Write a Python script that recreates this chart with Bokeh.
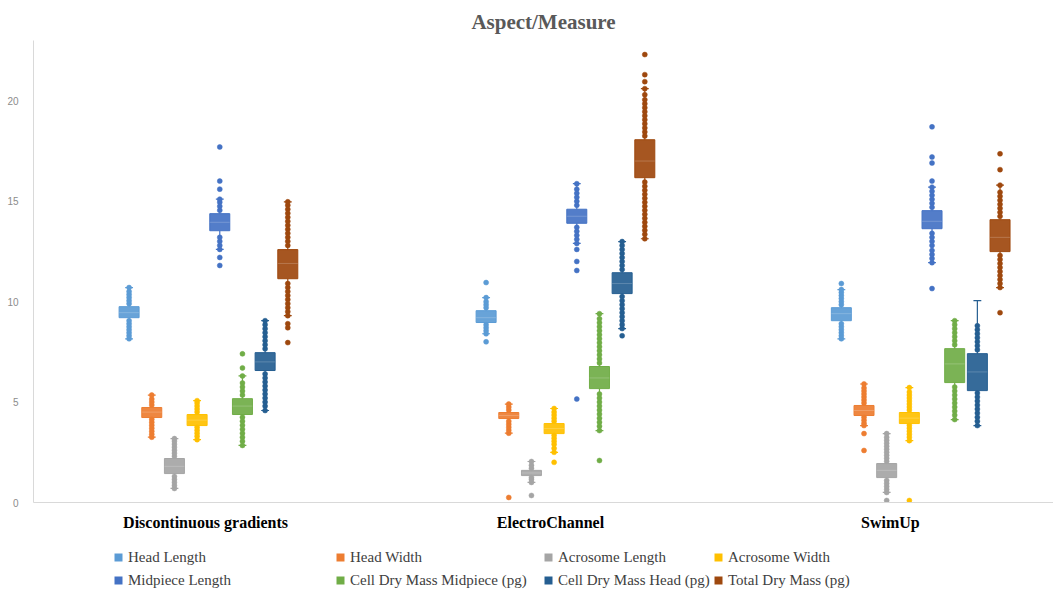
from bokeh.plotting import figure
from bokeh.layouts import column
from bokeh.models import ColumnDataSource, FixedTicker, Legend, LegendItem, Range1d
from bokeh.embed import file_html
from bokeh.resources import INLINE

GROUPS = ["Discontinuous gradients", "ElectroChannel", "SwimUp"]
SERIES = ["Head Length", "Head Width", "Acrosome Length", "Acrosome Width",
          "Midpiece Length", "Cell Dry Mass Midpiece (pg)", "Cell Dry Mass Head (pg)",
          "Total Dry Mass (pg)"]
COLORS = ["#5B9BD5", "#ED7D31", "#A5A5A5", "#FFC000",
          "#4472C4", "#70AD47", "#255E91", "#9E480E"]

# per series: [Discontinuous gradients, ElectroChannel, SwimUp]
Q1 = [[9.20, 8.96, 9.05], [4.23, 4.18, 4.33], [1.44, 1.34, 1.24], [3.83, 3.43, 3.93],
      [13.53, 13.90, 13.63], [4.38, 5.67, 5.97], [6.57, 10.40, 5.57], [11.14, 16.17, 12.49]]
MEDIAN = [[9.45, 9.20, 9.40], [4.50, 4.33, 4.58], [1.80, 1.47, 1.60], [4.10, 3.68, 4.20],
          [13.95, 14.25, 14.00], [4.80, 6.20, 6.90], [7.00, 10.90, 6.50], [11.90, 17.00, 13.20]]
Q3 = [[9.75, 9.55, 9.70], [4.73, 4.48, 4.83], [2.19, 1.60, 1.94], [4.38, 3.93, 4.48],
      [14.38, 14.60, 14.53], [5.17, 6.77, 7.66], [7.46, 11.44, 7.41], [12.59, 18.06, 14.08]]
WHISKER_LO = [[8.15, 8.40, 8.15], [3.25, 3.45, 3.83], [0.70, 1.00, 0.50], [3.13, 2.50, 3.08],
              [12.60, 12.90, 11.94], [2.84, 3.58, 4.13], [4.58, 8.66, 3.83], [9.30, 13.13, 10.70]]
WHISKER_HI = [[10.70, 10.20, 10.60], [5.35, 4.90, 5.90], [3.18, 2.04, 3.43], [5.07, 4.68, 5.72],
              [15.10, 15.87, 15.70], [6.30, 9.40, 9.05], [9.05, 12.99, 10.05], [14.97, 20.60, 15.80]]

POINTS = [
    [[8.15, 8.3, 8.45, 8.6, 8.75, 8.9, 9.05, 9.9, 10.05, 10.2, 10.35, 10.5, 10.7],
     [8.0, 8.4, 8.55, 8.7, 8.85, 9.7, 9.85, 10.0, 10.2, 10.95],
     [8.15, 8.3, 8.45, 8.6, 8.75, 8.9, 9.85, 10.0, 10.15, 10.3, 10.45, 10.6, 10.9]],
    [[3.25, 3.4, 3.55, 3.7, 3.85, 4.0, 4.15, 4.85, 5.0, 5.15, 5.35],
     [0.25, 3.45, 3.6, 3.75, 3.9, 4.05, 4.6, 4.75, 4.9],
     [2.59, 3.43, 3.83, 3.95, 4.1, 4.25, 4.95, 5.1, 5.25, 5.4, 5.55, 5.7, 5.9]],
    [[0.7, 0.85, 1.0, 1.15, 1.3, 2.3, 2.45, 2.6, 2.75, 2.9, 3.05, 3.18],
     [0.35, 1.0, 1.15, 1.25, 1.7, 1.85, 2.04],
     [0.1, 0.5, 0.65, 0.8, 0.95, 1.1, 2.05, 2.2, 2.35, 2.5, 2.65, 2.8, 2.95, 3.1, 3.25, 3.43]],
    [[3.13, 3.3, 3.45, 3.6, 3.75, 4.5, 4.65, 4.8, 4.95, 5.07],
     [2.0, 2.5, 2.7, 2.9, 3.05, 3.2, 3.35, 4.05, 4.2, 4.35, 4.5, 4.68],
     [0.1, 3.08, 3.25, 3.4, 3.55, 3.7, 3.85, 4.6, 4.75, 4.9, 5.05, 5.2, 5.35, 5.5, 5.72]],
    [[11.8, 12.2, 12.6, 12.8, 13.0, 13.2, 14.55, 14.75, 14.95, 15.1, 15.6, 16.0, 17.7],
     [5.15, 11.55, 12.0, 12.6, 12.9, 13.1, 13.3, 13.5, 13.7, 14.8, 15.0, 15.2, 15.4, 15.6, 15.87],
     [10.65, 11.94, 12.15, 12.35, 12.55, 12.8, 13.0, 13.2, 13.4, 14.7, 14.9, 15.1, 15.3, 15.5,
      15.7, 16.0, 16.9, 17.2, 18.7]],
    [[2.84, 3.05, 3.25, 3.45, 3.65, 3.85, 4.05, 4.25, 5.35, 5.55, 5.75, 5.95, 6.3, 6.7, 7.4],
     [2.09, 3.58, 3.8, 4.0, 4.2, 4.4, 4.6, 4.8, 5.0, 5.2, 5.4, 6.95, 7.15, 7.35, 7.55, 7.75, 7.95,
      8.15, 8.35, 8.55, 8.75, 8.95, 9.15, 9.4],
     [4.13, 4.35, 4.55, 4.75, 4.95, 5.15, 5.35, 5.55, 5.75, 7.85, 8.05, 8.25, 8.45, 8.65, 8.85, 9.05]],
    [[4.58, 4.8, 5.0, 5.2, 5.4, 5.6, 5.8, 6.0, 6.2, 6.4, 7.65, 7.85, 8.05, 8.25, 8.45, 8.65, 8.85, 9.05],
     [8.3, 8.66, 8.85, 9.05, 9.25, 9.45, 9.65, 9.85, 10.05, 10.25, 11.6, 11.8, 12.0, 12.2, 12.4,
      12.6, 12.8, 12.99],
     [3.83, 4.05, 4.25, 4.45, 4.65, 4.85, 5.05, 5.25, 5.45, 7.6, 7.8, 8.0, 8.2, 8.4, 8.6, 8.8]],
    [[7.96, 8.7, 8.9, 9.3, 9.5, 9.7, 9.9, 10.1, 10.3, 10.5, 10.7, 10.9, 12.8, 13.0, 13.2, 13.4,
      13.6, 13.8, 14.0, 14.2, 14.4, 14.6, 14.8, 14.97],
     [13.13, 13.35, 13.55, 13.75, 13.95, 14.15, 14.35, 14.55, 14.75, 14.95, 15.15, 15.35, 15.55,
      15.75, 15.95, 18.25, 18.45, 18.65, 18.85, 19.05, 19.25, 19.45, 19.65, 19.85, 20.05, 20.3,
      20.6, 20.95, 21.3, 22.3],
     [9.45, 10.7, 10.9, 11.1, 11.3, 11.5, 11.7, 11.9, 12.1, 12.3, 14.25, 14.45, 14.65, 14.85, 15.05,
      15.25, 15.45, 15.8, 16.57, 17.36]],
]

Y_TICKS = [0, 5, 10, 15, 20]

# ---- layout (positions, not data) ----
GROUP_CENTER = [0.490, 1.490, 2.485]
LABEL_POS = [0.482, 1.448, 2.400]
STEP = 0.0635
BOX_W = 0.056
CAP_W = 0.022

box = dict(x=[], q1=[], q3=[], med=[], lo=[], hi=[], color=[], l=[], r=[], cl=[], cr=[])
pts = dict(x=[], y=[], color=[])
for si, name in enumerate(SERIES):
    for gi in range(len(GROUPS)):
        x = GROUP_CENTER[gi] + (si - 3.5) * STEP
        box["x"].append(x)
        box["q1"].append(Q1[si][gi])
        box["q3"].append(Q3[si][gi])
        box["med"].append(MEDIAN[si][gi])
        box["lo"].append(WHISKER_LO[si][gi])
        box["hi"].append(WHISKER_HI[si][gi])
        box["color"].append(COLORS[si])
        box["l"].append(x - BOX_W / 2)
        box["r"].append(x + BOX_W / 2)
        box["cl"].append(x - CAP_W / 2)
        box["cr"].append(x + CAP_W / 2)
        for v in POINTS[si][gi]:
            pts["x"].append(x)
            pts["y"].append(v)
            pts["color"].append(COLORS[si])

bsrc = ColumnDataSource(box)
psrc = ColumnDataSource(pts)

p = figure(width=1053, height=545, output_backend="svg", toolbar_location=None,
           x_range=Range1d(0, 2.857), y_range=Range1d(0, 23),
           min_border_left=33, min_border_right=0, min_border_top=40, min_border_bottom=43)
p.outline_line_color = None
p.xgrid.visible = False
p.ygrid.visible = False
p.background_fill_color = "white"
p.border_fill_color = "white"

p.title.text = "Aspect/Measure"
p.title.align = "center"
p.title.text_font = "Liberation Serif"
p.title.text_font_size = "21px"
p.title.text_font_style = "bold"
p.title.text_color = "#595959"
p.title.standoff = 13

# whiskers
p.segment(x0="x", y0="q3", x1="x", y1="hi", source=bsrc, line_color="color", line_width=1.2)
p.segment(x0="x", y0="q1", x1="x", y1="lo", source=bsrc, line_color="color", line_width=1.2)
p.segment(x0="cl", y0="hi", x1="cr", y1="hi", source=bsrc, line_color="color", line_width=1.2)
p.segment(x0="cl", y0="lo", x1="cr", y1="lo", source=bsrc, line_color="color", line_width=1.2)
# points
p.scatter(x="x", y="y", source=psrc, size=5, marker="circle", fill_color="color",
          line_color="color", line_width=0.5)
# boxes
p.vbar(x="x", width=BOX_W, top="q3", bottom="q1", source=bsrc, fill_color="color",
       fill_alpha=0.92, line_color="color", line_width=1)
p.segment(x0="l", y0="med", x1="r", y1="med", source=bsrc, line_color="white",
          line_alpha=0.2, line_width=1)

# axes
xa = p.xaxis[0]
xa.ticker = FixedTicker(ticks=LABEL_POS)
xa.major_label_overrides = {LABEL_POS[i]: GROUPS[i] for i in range(3)}
xa.major_tick_line_color = None
xa.minor_tick_line_color = None
xa.axis_line_color = "#d9d9d9"
xa.major_label_text_font = "Liberation Serif"
xa.major_label_text_font_style = "bold"
xa.major_label_text_font_size = "16px"
xa.major_label_text_color = "#000000"
xa.major_label_standoff = 5

ya = p.yaxis[0]
ya.ticker = FixedTicker(ticks=Y_TICKS)
ya.major_tick_line_color = None
ya.minor_tick_line_color = None
ya.axis_line_color = "#d9d9d9"
ya.major_label_text_font = "Liberation Sans"
ya.major_label_text_font_size = "10px"
ya.major_label_text_color = "#8c8c8c"
ya.major_label_standoff = 9

# legend figure below: 4 columns x 2 rows
lf = figure(width=1053, height=47, output_backend="svg", toolbar_location=None,
            x_range=Range1d(0, 1053), y_range=Range1d(0, 47),
            min_border_left=0, min_border_right=0, min_border_top=0, min_border_bottom=0)
lf.axis.visible = False
lf.grid.visible = False
lf.outline_line_color = None
lf.background_fill_color = "white"
lf.border_fill_color = "white"

nan = float("nan")
dummy = []
for si, name in enumerate(SERIES):
    r = lf.scatter(x=[nan], y=[nan], marker="square", size=8, fill_color=COLORS[si],
                   line_color=COLORS[si], line_width=0)
    dummy.append(r)

COL_X = [75, 297, 505, 675]
for c in range(4):
    items = [LegendItem(label=SERIES[c], renderers=[dummy[c]], index=0),
             LegendItem(label=SERIES[c + 4], renderers=[dummy[c + 4]], index=0)]
    leg = Legend(items=items, location=(COL_X[c], 2), orientation="vertical",
                 padding=0, margin=0, spacing=3, glyph_width=20, glyph_height=20,
                 label_height=20, label_standoff=0, border_line_color=None,
                 background_fill_alpha=0, label_text_font="Liberation Serif",
                 label_text_font_size="15px", label_text_color="#404040")
    lf.add_layout(leg)

layout = column(p, lf, spacing=0)
open("out.html", "w").write(file_html(layout, INLINE))
